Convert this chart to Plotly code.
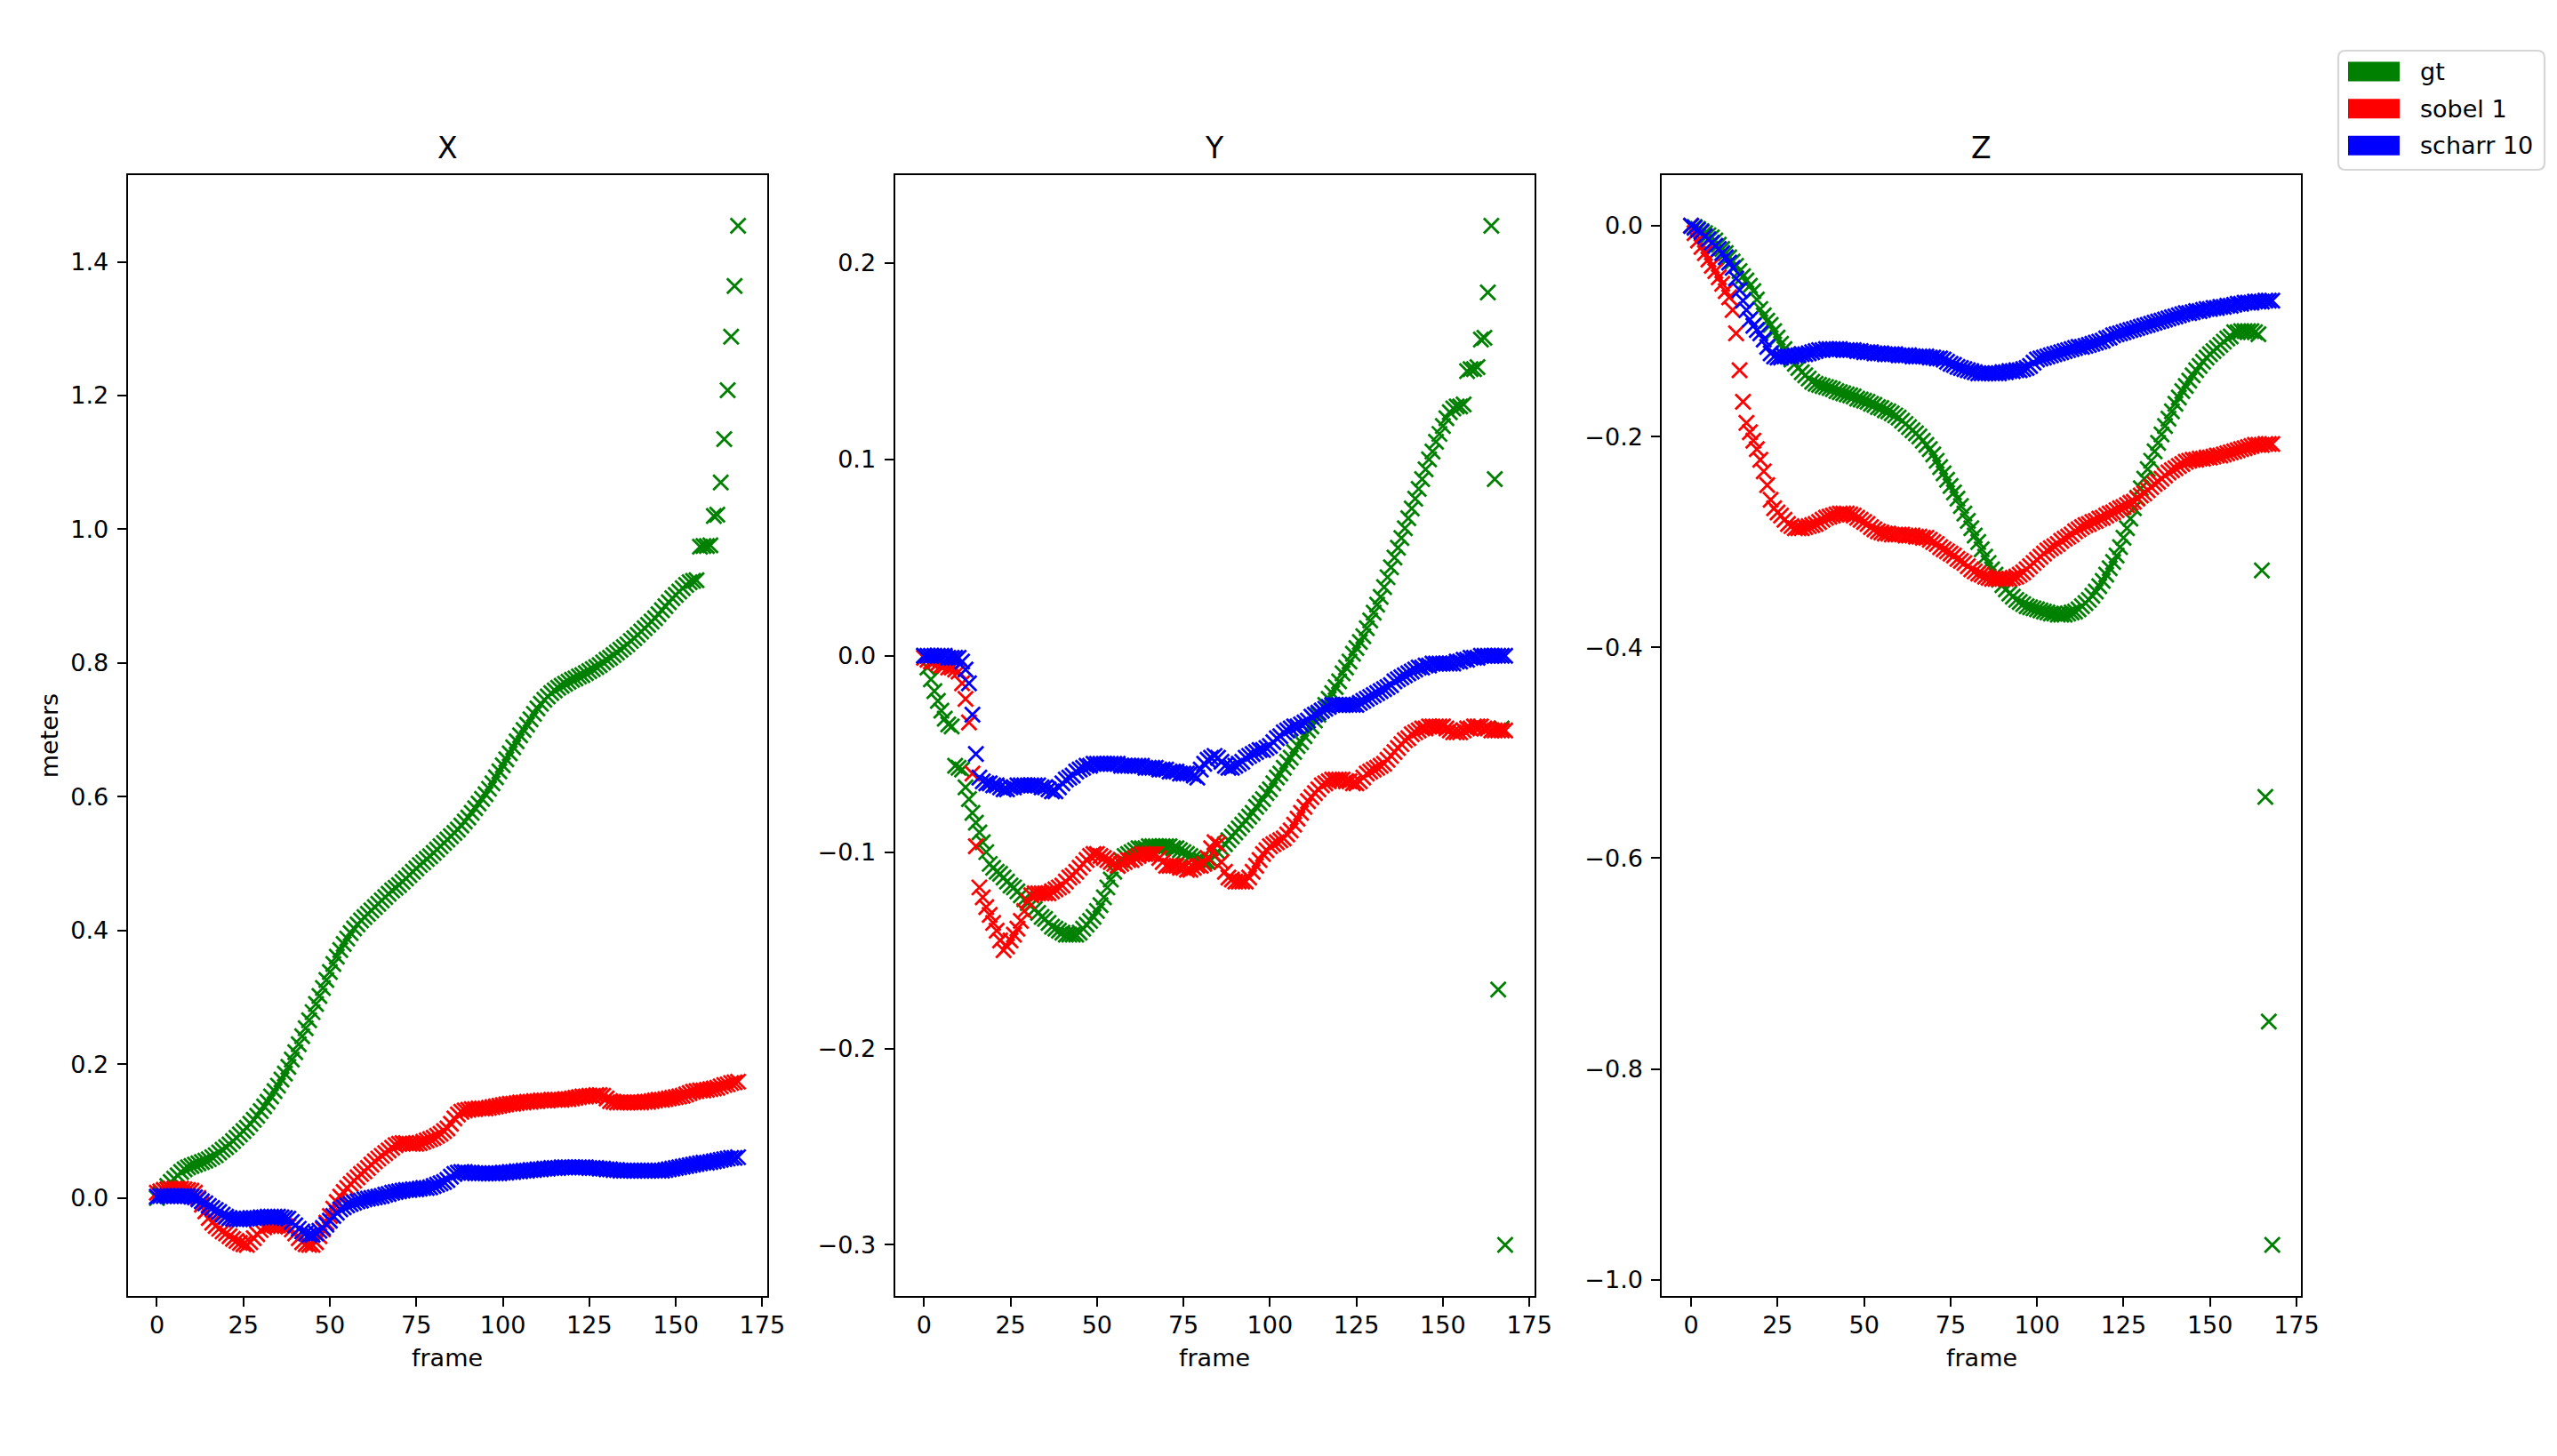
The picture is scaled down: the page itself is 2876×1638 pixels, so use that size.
import plotly.graph_objects as go

# ---------------- data ----------------
frames = list(range(169))
x_ticks = [0, 25, 50, 75, 100, 125, 150, 175]
y_ticks_x = [0.0, 0.2, 0.4, 0.6, 0.8, 1.0, 1.2, 1.4]
y_ticks_y = [-0.3, -0.2, -0.1, 0.0, 0.1, 0.2]
y_ticks_z = [-1.0, -0.8, -0.6, -0.4, -0.2, 0.0]
panel_titles = ["X", "Y", "Z"]
series_names = ["gt", "sobel 1", "scharr 10"]

gt_x = [
    0.000, 0.006, 0.012, 0.018, 0.024, 0.029, 0.034, 0.039, 0.043, 0.046,
    0.048, 0.050, 0.052, 0.054, 0.056, 0.058, 0.061, 0.064, 0.068, 0.072,
    0.076, 0.080, 0.085, 0.090, 0.095, 0.100, 0.105, 0.111, 0.117, 0.123,
    0.130, 0.137, 0.144, 0.152, 0.160, 0.168, 0.177, 0.186, 0.196, 0.207,
    0.218, 0.230, 0.242, 0.254, 0.266, 0.278, 0.290, 0.302, 0.314, 0.326,
    0.338, 0.350, 0.361, 0.371, 0.380, 0.388, 0.396, 0.403, 0.409, 0.415,
    0.420, 0.425, 0.430, 0.435, 0.440, 0.445, 0.450, 0.455, 0.460, 0.464,
    0.468, 0.473, 0.478, 0.483, 0.488, 0.493, 0.498, 0.502, 0.507, 0.511,
    0.516, 0.521, 0.526, 0.531, 0.536, 0.541, 0.546, 0.551, 0.557, 0.563,
    0.569, 0.576, 0.583, 0.590, 0.597, 0.604, 0.612, 0.620, 0.629, 0.638,
    0.647, 0.656, 0.665, 0.674, 0.683, 0.692, 0.700, 0.708, 0.716, 0.724,
    0.732, 0.739, 0.745, 0.750, 0.755, 0.759, 0.763, 0.766, 0.769, 0.772,
    0.775, 0.777, 0.780, 0.782, 0.785, 0.788, 0.791, 0.794, 0.797, 0.801,
    0.805, 0.808, 0.812, 0.816, 0.820, 0.824, 0.828, 0.833, 0.837, 0.842,
    0.847, 0.852, 0.857, 0.862, 0.867, 0.873, 0.879, 0.885, 0.891, 0.897,
    0.902, 0.907, 0.912, 0.917, 0.921, 0.923, 0.924, 0.974, 0.975, 0.975,
    0.976, 1.020, 1.022, 1.070, 1.135, 1.208, 1.288, 1.364, 1.454,
]
sobel_x = [
    0.008, 0.010, 0.012, 0.013, 0.014, 0.014, 0.014, 0.014, 0.013, 0.012,
    0.011, 0.008, 0.000, -0.010, -0.020, -0.030, -0.037, -0.042, -0.046, -0.050,
    -0.053, -0.057, -0.061, -0.064, -0.067, -0.069, -0.070, -0.066, -0.060, -0.054,
    -0.048, -0.044, -0.042, -0.041, -0.041, -0.041, -0.041, -0.042, -0.043, -0.047,
    -0.053, -0.060, -0.066, -0.069, -0.070, -0.070, -0.066, -0.057, -0.047, -0.037,
    -0.027, -0.016, -0.006, 0.002, 0.009, 0.015, 0.021, 0.026, 0.031, 0.036,
    0.040, 0.045, 0.050, 0.055, 0.059, 0.063, 0.067, 0.071, 0.075, 0.079,
    0.081, 0.082, 0.082, 0.081, 0.081, 0.081, 0.082, 0.084, 0.086, 0.088,
    0.090, 0.093, 0.096, 0.100, 0.104, 0.111, 0.119, 0.125, 0.129, 0.131,
    0.132, 0.133, 0.133, 0.134, 0.134, 0.134, 0.135, 0.136, 0.137, 0.138,
    0.139, 0.140, 0.141, 0.141, 0.142, 0.143, 0.143, 0.144, 0.144, 0.145,
    0.145, 0.146, 0.146, 0.146, 0.147, 0.147, 0.147, 0.147, 0.148, 0.148,
    0.149, 0.150, 0.151, 0.152, 0.152, 0.153, 0.153, 0.154, 0.154, 0.153,
    0.149, 0.145, 0.144, 0.143, 0.143, 0.143, 0.143, 0.143, 0.143, 0.143,
    0.143, 0.144, 0.144, 0.145, 0.146, 0.147, 0.147, 0.148, 0.149, 0.150,
    0.151, 0.152, 0.153, 0.155, 0.157, 0.159, 0.160, 0.161, 0.161, 0.162,
    0.163, 0.164, 0.165, 0.167, 0.169, 0.170, 0.172, 0.173, 0.174,
]
scharr_x = [
    0.002, 0.003, 0.003, 0.003, 0.003, 0.003, 0.003, 0.003, 0.003, 0.003,
    0.002, 0.001, -0.002, -0.005, -0.008, -0.012, -0.015, -0.018, -0.021, -0.025,
    -0.028, -0.030, -0.031, -0.032, -0.032, -0.032, -0.031, -0.030, -0.030, -0.030,
    -0.029, -0.029, -0.028, -0.028, -0.028, -0.028, -0.029, -0.030, -0.031, -0.036,
    -0.041, -0.046, -0.050, -0.053, -0.055, -0.055, -0.053, -0.049, -0.045, -0.040,
    -0.034, -0.027, -0.022, -0.017, -0.014, -0.011, -0.009, -0.007, -0.005, -0.004,
    -0.002, -0.001, 0.000, 0.001, 0.002, 0.003, 0.005, 0.006, 0.008, 0.009,
    0.010, 0.011, 0.012, 0.012, 0.013, 0.013, 0.014, 0.015, 0.015, 0.016,
    0.018, 0.020, 0.022, 0.024, 0.027, 0.032, 0.036, 0.038, 0.039, 0.039,
    0.038, 0.038, 0.037, 0.037, 0.037, 0.037, 0.037, 0.037, 0.037, 0.037,
    0.038, 0.038, 0.039, 0.039, 0.040, 0.040, 0.041, 0.041, 0.042, 0.042,
    0.043, 0.043, 0.044, 0.044, 0.045, 0.045, 0.045, 0.046, 0.046, 0.046,
    0.046, 0.046, 0.046, 0.046, 0.046, 0.045, 0.045, 0.045, 0.044, 0.044,
    0.043, 0.043, 0.042, 0.042, 0.041, 0.041, 0.041, 0.041, 0.041, 0.041,
    0.041, 0.041, 0.041, 0.041, 0.041, 0.041, 0.041, 0.042, 0.043, 0.044,
    0.045, 0.046, 0.047, 0.048, 0.049, 0.050, 0.051, 0.052, 0.053, 0.053,
    0.054, 0.055, 0.056, 0.057, 0.058, 0.059, 0.060, 0.060, 0.061,
]

gt_y = [
    0.000, -0.006, -0.012, -0.018, -0.023, -0.028, -0.032, -0.035, -0.036, -0.056,
    -0.057, -0.058, -0.067, -0.073, -0.080, -0.085, -0.090, -0.095, -0.100, -0.106,
    -0.108, -0.110, -0.111, -0.113, -0.115, -0.117, -0.118, -0.120, -0.122, -0.124,
    -0.126, -0.127, -0.129, -0.131, -0.133, -0.134, -0.136, -0.138, -0.139, -0.140,
    -0.141, -0.142, -0.142, -0.142, -0.142, -0.141, -0.139, -0.137, -0.135, -0.133,
    -0.130, -0.127, -0.123, -0.118, -0.114, -0.110, -0.107, -0.104, -0.102, -0.101,
    -0.100, -0.099, -0.098, -0.098, -0.098, -0.097, -0.097, -0.097, -0.097, -0.097,
    -0.097, -0.097, -0.098, -0.098, -0.099, -0.100, -0.101, -0.102, -0.103, -0.104,
    -0.104, -0.105, -0.105, -0.104, -0.102, -0.100, -0.098, -0.096, -0.094, -0.092,
    -0.090, -0.088, -0.086, -0.084, -0.082, -0.080, -0.077, -0.075, -0.073, -0.070,
    -0.068, -0.065, -0.062, -0.060, -0.057, -0.054, -0.052, -0.049, -0.046, -0.044,
    -0.041, -0.038, -0.036, -0.033, -0.030, -0.028, -0.025, -0.022, -0.019, -0.016,
    -0.013, -0.009, -0.006, -0.003, 0.001, 0.004, 0.007, 0.010, 0.014, 0.018,
    0.022, 0.026, 0.030, 0.035, 0.040, 0.045, 0.050, 0.055, 0.060, 0.065,
    0.070, 0.075, 0.080, 0.085, 0.090, 0.095, 0.100, 0.104, 0.109, 0.113,
    0.117, 0.121, 0.124, 0.126, 0.127, 0.127, 0.128, 0.145, 0.146, 0.146,
    0.147, 0.161, 0.162, 0.185, 0.219, 0.090, -0.170, -0.037, -0.300,
]
sobel_y = [
    -0.001, -0.002, -0.003, -0.003, -0.004, -0.005, -0.005, -0.006, -0.006, -0.007,
    -0.008, -0.014, -0.022, -0.034, -0.060, -0.097, -0.118, -0.123, -0.128, -0.132,
    -0.136, -0.140, -0.145, -0.150, -0.148, -0.145, -0.142, -0.139, -0.135, -0.130,
    -0.125, -0.122, -0.121, -0.121, -0.121, -0.121, -0.121, -0.120, -0.119, -0.118,
    -0.117, -0.115, -0.113, -0.112, -0.110, -0.108, -0.106, -0.104, -0.102, -0.101,
    -0.101, -0.102, -0.103, -0.104, -0.105, -0.106, -0.107, -0.106, -0.105, -0.104,
    -0.104, -0.103, -0.102, -0.101, -0.101, -0.101, -0.101, -0.101, -0.103, -0.105,
    -0.107, -0.107, -0.107, -0.107, -0.108, -0.108, -0.109, -0.109, -0.108, -0.107,
    -0.107, -0.106, -0.103, -0.098, -0.095, -0.096, -0.105, -0.110, -0.113, -0.114,
    -0.115, -0.115, -0.115, -0.115, -0.113, -0.110, -0.107, -0.104, -0.101, -0.099,
    -0.097, -0.096, -0.095, -0.094, -0.093, -0.091, -0.089, -0.086, -0.083, -0.080,
    -0.077, -0.074, -0.072, -0.070, -0.068, -0.066, -0.065, -0.064, -0.063, -0.063,
    -0.063, -0.063, -0.064, -0.064, -0.065, -0.065, -0.064, -0.062, -0.060, -0.059,
    -0.058, -0.057, -0.056, -0.055, -0.053, -0.051, -0.049, -0.047, -0.045, -0.043,
    -0.042, -0.040, -0.039, -0.038, -0.037, -0.037, -0.036, -0.036, -0.036, -0.036,
    -0.036, -0.037, -0.038, -0.039, -0.039, -0.039, -0.038, -0.037, -0.037, -0.036,
    -0.036, -0.036, -0.037, -0.037, -0.038, -0.038, -0.038, -0.038, -0.038,
]
scharr_y = [
    0.000, 0.000, 0.000, 0.000, 0.000, 0.000, 0.000, -0.001, -0.001, -0.001,
    -0.001, -0.003, -0.007, -0.014, -0.030, -0.050, -0.062, -0.064, -0.065, -0.065,
    -0.066, -0.066, -0.067, -0.068, -0.068, -0.067, -0.067, -0.066, -0.066, -0.066,
    -0.066, -0.066, -0.066, -0.066, -0.067, -0.067, -0.068, -0.069, -0.069, -0.067,
    -0.065, -0.063, -0.062, -0.061, -0.059, -0.058, -0.057, -0.056, -0.056, -0.055,
    -0.055, -0.055, -0.055, -0.055, -0.055, -0.055, -0.055, -0.056, -0.056, -0.056,
    -0.056, -0.056, -0.056, -0.056, -0.057, -0.057, -0.057, -0.057, -0.058, -0.058,
    -0.058, -0.059, -0.059, -0.059, -0.060, -0.060, -0.060, -0.060, -0.061, -0.062,
    -0.058, -0.055, -0.053, -0.052, -0.051, -0.052, -0.054, -0.056, -0.057, -0.057,
    -0.056, -0.055, -0.054, -0.052, -0.051, -0.050, -0.049, -0.048, -0.048, -0.047,
    -0.046, -0.044, -0.042, -0.041, -0.039, -0.038, -0.037, -0.036, -0.036, -0.035,
    -0.034, -0.033, -0.031, -0.030, -0.029, -0.028, -0.027, -0.026, -0.025, -0.025,
    -0.025, -0.025, -0.025, -0.025, -0.025, -0.025, -0.024, -0.023, -0.022, -0.021,
    -0.020, -0.019, -0.018, -0.017, -0.016, -0.015, -0.013, -0.012, -0.011, -0.010,
    -0.009, -0.008, -0.007, -0.006, -0.006, -0.005, -0.005, -0.004, -0.004, -0.004,
    -0.004, -0.004, -0.004, -0.004, -0.003, -0.003, -0.002, -0.002, -0.001, -0.001,
    -0.001, 0.000, 0.000, 0.000, 0.000, 0.000, 0.000, 0.000, 0.000,
]

gt_z = [
    0.000, -0.001, -0.003, -0.005, -0.007, -0.009, -0.011, -0.014, -0.018, -0.022,
    -0.026, -0.030, -0.034, -0.038, -0.043, -0.048, -0.052, -0.057, -0.062, -0.070,
    -0.079, -0.085, -0.090, -0.094, -0.100, -0.106, -0.112, -0.117, -0.122, -0.127,
    -0.131, -0.135, -0.139, -0.142, -0.145, -0.148, -0.150, -0.151, -0.152, -0.153,
    -0.154, -0.155, -0.157, -0.158, -0.159, -0.160, -0.161, -0.162, -0.164, -0.165,
    -0.166, -0.167, -0.169, -0.170, -0.172, -0.173, -0.175, -0.176, -0.178, -0.180,
    -0.182, -0.185, -0.188, -0.191, -0.194, -0.197, -0.200, -0.204, -0.208, -0.212,
    -0.217, -0.223, -0.229, -0.235, -0.241, -0.247, -0.253, -0.259, -0.266, -0.273,
    -0.280, -0.287, -0.294, -0.300, -0.307, -0.314, -0.320, -0.326, -0.331, -0.336,
    -0.341, -0.345, -0.349, -0.352, -0.355, -0.357, -0.359, -0.361, -0.362, -0.363,
    -0.364, -0.365, -0.366, -0.367, -0.368, -0.368, -0.369, -0.369, -0.369, -0.368,
    -0.367, -0.366, -0.364, -0.361, -0.358, -0.355, -0.351, -0.347, -0.342, -0.337,
    -0.331, -0.325, -0.319, -0.313, -0.305, -0.296, -0.287, -0.278, -0.268, -0.258,
    -0.249, -0.240, -0.231, -0.223, -0.214, -0.206, -0.198, -0.190, -0.183, -0.176,
    -0.169, -0.163, -0.157, -0.152, -0.147, -0.142, -0.137, -0.133, -0.129, -0.125,
    -0.122, -0.119, -0.116, -0.113, -0.110, -0.107, -0.105, -0.101, -0.101, -0.100,
    -0.100, -0.100, -0.100, -0.101, -0.103, -0.327, -0.542, -0.755, -0.967,
]
sobel_z = [
    0.000, -0.007, -0.014, -0.020, -0.026, -0.032, -0.038, -0.043, -0.049, -0.055,
    -0.062, -0.068, -0.080, -0.102, -0.137, -0.167, -0.187, -0.196, -0.204, -0.212,
    -0.222, -0.233, -0.246, -0.260, -0.268, -0.272, -0.275, -0.279, -0.283, -0.285,
    -0.287, -0.287, -0.287, -0.286, -0.285, -0.284, -0.283, -0.281, -0.279, -0.277,
    -0.276, -0.275, -0.274, -0.273, -0.273, -0.273, -0.274, -0.275, -0.277, -0.279,
    -0.281, -0.283, -0.286, -0.288, -0.290, -0.291, -0.292, -0.292, -0.293, -0.293,
    -0.293, -0.293, -0.294, -0.294, -0.294, -0.295, -0.295, -0.296, -0.296, -0.298,
    -0.300, -0.302, -0.305, -0.307, -0.309, -0.311, -0.313, -0.316, -0.318, -0.320,
    -0.323, -0.326, -0.328, -0.330, -0.331, -0.333, -0.334, -0.335, -0.335, -0.335,
    -0.335, -0.335, -0.335, -0.334, -0.333, -0.331, -0.329, -0.326, -0.323, -0.320,
    -0.317, -0.314, -0.311, -0.308, -0.306, -0.304, -0.302, -0.299, -0.297, -0.295,
    -0.293, -0.290, -0.288, -0.286, -0.284, -0.283, -0.281, -0.280, -0.278, -0.277,
    -0.275, -0.273, -0.272, -0.270, -0.268, -0.267, -0.265, -0.263, -0.262, -0.259,
    -0.256, -0.254, -0.251, -0.248, -0.245, -0.243, -0.240, -0.237, -0.234, -0.232,
    -0.230, -0.228, -0.226, -0.224, -0.223, -0.222, -0.222, -0.221, -0.221, -0.220,
    -0.220, -0.219, -0.218, -0.218, -0.217, -0.216, -0.215, -0.214, -0.213, -0.212,
    -0.211, -0.210, -0.209, -0.208, -0.208, -0.208, -0.207, -0.207, -0.207,
]
scharr_z = [
    0.000, -0.002, -0.004, -0.006, -0.010, -0.013, -0.016, -0.019, -0.022, -0.026,
    -0.030, -0.035, -0.040, -0.050, -0.061, -0.071, -0.080, -0.089, -0.095, -0.099,
    -0.102, -0.108, -0.115, -0.121, -0.124, -0.125, -0.125, -0.124, -0.124, -0.124,
    -0.123, -0.123, -0.122, -0.122, -0.121, -0.120, -0.119, -0.118, -0.118, -0.117,
    -0.117, -0.117, -0.117, -0.117, -0.118, -0.118, -0.118, -0.118, -0.119, -0.119,
    -0.120, -0.120, -0.120, -0.121, -0.121, -0.121, -0.122, -0.122, -0.122, -0.122,
    -0.123, -0.123, -0.123, -0.123, -0.124, -0.124, -0.124, -0.124, -0.124, -0.125,
    -0.125, -0.126, -0.126, -0.127, -0.129, -0.131, -0.132, -0.134, -0.135, -0.136,
    -0.137, -0.138, -0.139, -0.140, -0.140, -0.140, -0.140, -0.140, -0.140, -0.140,
    -0.139, -0.139, -0.138, -0.138, -0.137, -0.137, -0.136, -0.135, -0.133, -0.130,
    -0.127, -0.126, -0.125, -0.124, -0.123, -0.122, -0.121, -0.120, -0.119, -0.118,
    -0.117, -0.116, -0.115, -0.115, -0.114, -0.113, -0.112, -0.111, -0.110, -0.109,
    -0.107, -0.106, -0.104, -0.103, -0.102, -0.101, -0.100, -0.099, -0.098, -0.097,
    -0.096, -0.095, -0.094, -0.093, -0.092, -0.091, -0.090, -0.089, -0.088, -0.087,
    -0.086, -0.085, -0.084, -0.083, -0.083, -0.082, -0.081, -0.081, -0.080, -0.079,
    -0.079, -0.078, -0.078, -0.077, -0.077, -0.076, -0.076, -0.075, -0.074, -0.074,
    -0.073, -0.073, -0.073, -0.072, -0.072, -0.072, -0.071, -0.071, -0.071,
]

for arr in (gt_x, sobel_x, scharr_x, gt_y, sobel_y, scharr_y, gt_z, sobel_z, scharr_z):
    assert len(arr) == len(frames), len(arr)

# ---------------- figure ----------------
W, H = 2876, 1638
FONT = "DejaVu Sans"
colors = {"gt": "#008000", "sobel 1": "#ff0000", "scharr 10": "#0000ff"}

panels = [
    (gt_x, sobel_x, scharr_x),
    (gt_y, sobel_y, scharr_y),
    (gt_z, sobel_z, scharr_z),
]
x_domains = [[0.05, 0.30], [0.35, 0.60], [0.65, 0.90]]
y_domain = [0.11, 0.88]
y_ranges = [[-0.1463, 1.5303], [-0.3260, 0.2450], [-1.0153, 0.0484]]
y_tick_sets = [y_ticks_x, y_ticks_y, y_ticks_z]

fig = go.Figure()
for i, series in enumerate(panels):
    xa = "x" if i == 0 else f"x{i + 1}"
    ya = "y" if i == 0 else f"y{i + 1}"
    for name, vals in zip(series_names, series):
        fig.add_trace(go.Scatter(
            x=frames, y=vals, mode="markers", name=name,
            legendgroup=name, showlegend=False,
            xaxis=xa, yaxis=ya,
            marker=dict(symbol="x-thin", size=17, color=colors[name],
                        line=dict(width=2.8, color=colors[name])),
        ))

axis_common = dict(
    showline=True, mirror=True, linecolor="black", linewidth=2.2,
    ticks="outside", ticklen=10, tickwidth=2.2, tickcolor="black",
    showgrid=False, zeroline=False, automargin=False,
    tickfont=dict(family=FONT, size=27, color="black"),
)

layout = dict(
    template="none",
    width=W, height=H, autosize=False,
    margin=dict(l=0, r=0, t=0, b=0, pad=0, autoexpand=False),
    paper_bgcolor="white", plot_bgcolor="white",
    showlegend=False,
    font=dict(family=FONT, size=27, color="black"),
)
for i in range(3):
    xk = "xaxis" if i == 0 else f"xaxis{i + 1}"
    yk = "yaxis" if i == 0 else f"yaxis{i + 1}"
    ya = "y" if i == 0 else f"y{i + 1}"
    xa = "x" if i == 0 else f"x{i + 1}"
    layout[xk] = dict(axis_common, domain=x_domains[i], anchor=ya,
                      range=[-8.4, 176.4], tickvals=x_ticks,
                      ticktext=[str(t) for t in x_ticks], ticklabelstandoff=-2)
    layout[yk] = dict(axis_common, domain=y_domain, anchor=xa,
                      range=y_ranges[i], tickvals=y_tick_sets[i],
                      tickformat=".1f", ticklabelstandoff=4)
fig.update_layout(**layout)

# titles & axis labels
ann = []
for i, t in enumerate(panel_titles):
    cx = sum(x_domains[i]) / 2
    ann.append(dict(text=t, x=cx, y=1 - 167 / H, xref="paper", yref="paper",
                    xanchor="center", yanchor="middle", showarrow=False,
                    font=dict(family=FONT, size=33, color="black")))
    ann.append(dict(text="frame", x=cx, y=1 - 1527 / H, xref="paper", yref="paper",
                    xanchor="center", yanchor="middle", showarrow=False,
                    font=dict(family=FONT, size=27, color="black")))
ann.append(dict(text="meters", x=55 / W, y=sum(y_domain) / 2, xref="paper", yref="paper",
                xanchor="center", yanchor="middle", textangle=-90, showarrow=False,
                font=dict(family=FONT, size=27, color="black")))

# legend (patch style, like matplotlib Patch handles)
def px(xp, yp):
    return xp / W, 1 - yp / H

def rounded_rect_path(x0, y0, x1, y1, r):
    def P(a, b):
        u, v = px(a, b)
        return f"{u:.6f},{v:.6f}"
    return (f"M{P(x0 + r, y0)} L{P(x1 - r, y0)} Q{P(x1, y0)} {P(x1, y0 + r)} "
            f"L{P(x1, y1 - r)} Q{P(x1, y1)} {P(x1 - r, y1)} L{P(x0 + r, y1)} "
            f"Q{P(x0, y1)} {P(x0, y1 - r)} L{P(x0, y0 + r)} Q{P(x0, y0)} {P(x0 + r, y0)} Z")

shapes = [dict(type="path", xref="paper", yref="paper",
               path=rounded_rect_path(2630, 57, 2862, 191, 8),
               line=dict(color="#d6d6d6", width=2.2), fillcolor="rgba(255,255,255,0.8)")]
row_centers = [80.5, 122.2, 163.7]
for name, cy in zip(series_names, row_centers):
    x0p, y0p = px(2641, cy - 11)
    x1p, y1p = px(2699, cy + 11)
    shapes.append(dict(type="rect", xref="paper", yref="paper",
                       x0=x0p, x1=x1p, y0=y1p, y1=y0p,
                       line=dict(width=0), fillcolor=colors[name]))
    tx, ty = px(2720, cy)
    ann.append(dict(text=name, x=tx, y=ty, xref="paper", yref="paper",
                    xanchor="left", yanchor="middle", showarrow=False,
                    font=dict(family=FONT, size=27, color="black")))

fig.update_layout(annotations=ann, shapes=shapes)

fig.write_html(
    "out.html",
    config={"displayModeBar": False, "responsive": False},
    post_script="document.body.style.margin='0';document.body.style.overflow='hidden';",
)
